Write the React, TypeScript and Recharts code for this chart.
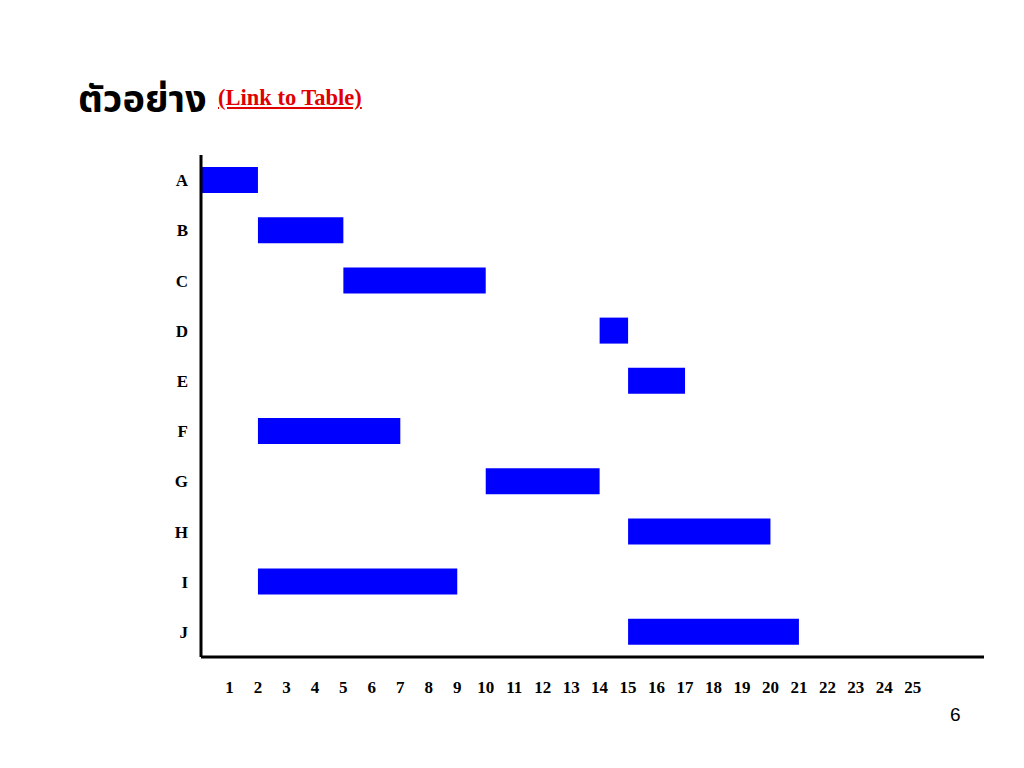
import React from 'react';
import { BarChart, Bar, XAxis, YAxis } from 'recharts';

// activities and their start / finish times (time units)
const tasks = ['A', 'B', 'C', 'D', 'E', 'F', 'G', 'H', 'I', 'J'];
const starts = [0, 2, 5, 14, 15, 2, 10, 15, 2, 15];
const finishes = [2, 5, 10, 15, 17, 7, 14, 20, 9, 21];
const timeTicks = [1, 2, 3, 4, 5, 6, 7, 8, 9, 10, 11, 12, 13, 14, 15, 16, 17, 18, 19, 20, 21, 22, 23, 24, 25];

const data = tasks.map((name, i) => ({
  name,
  span: [starts[i], finishes[i]],
}));

const tickStyle = {
  fontFamily: '"Liberation Serif", "Times New Roman", serif',
  fontWeight: 700,
  fontSize: 17,
  fill: '#000',
};

export default function App() {
  return (
    <div style={{ position: 'absolute', left: 0, top: 0, width: 1024, height: 768, background: '#fff' }}>
      <div
        style={{
          position: 'absolute',
          left: 78,
          top: 76,
          fontFamily: '"Noto Sans Thai", "DejaVu Sans", sans-serif',
          fontSize: 38,
          fontWeight: 700,
          color: '#000',
          lineHeight: '50px',
          whiteSpace: 'nowrap',
        }}
      >
        ตัวอย่าง
      </div>
      <div
        style={{
          position: 'absolute',
          left: 218,
          top: 85,
          fontFamily: '"Liberation Serif", "Times New Roman", serif',
          fontSize: 22.5,
          fontWeight: 700,
          color: '#e00000',
          textDecoration: 'underline',
          whiteSpace: 'nowrap',
        }}
      >
        (Link to Table)
      </div>
      <div
        style={{
          position: 'absolute',
          left: 950,
          top: 704,
          fontFamily: '"Liberation Sans", Arial, sans-serif',
          fontSize: 19,
          color: '#000',
        }}
      >
        6
      </div>
      <BarChart
        width={1024}
        height={768}
        data={data}
        layout="vertical"
        margin={{ top: 155, right: 40, bottom: 61, left: 0 }}
        style={{ position: 'absolute', left: 0, top: 0 }}
      >
        <XAxis
          type="number"
          domain={[0, 27.5]}
          ticks={timeTicks}
          interval={0}
          allowDataOverflow
          axisLine={{ stroke: '#000', strokeWidth: 3 }}
          tickLine={false}
          tickMargin={18}
          tick={tickStyle}
          height={50}
        />
        <YAxis
          type="category"
          dataKey="name"
          width={201}
          axisLine={{ stroke: '#000', strokeWidth: 3 }}
          tickLine={false}
          tickMargin={7}
          tick={tickStyle}
          interval={0}
        />
        <Bar dataKey="span" fill="#0000ff" barSize={26} isAnimationActive={false} />
      </BarChart>
    </div>
  );
}
